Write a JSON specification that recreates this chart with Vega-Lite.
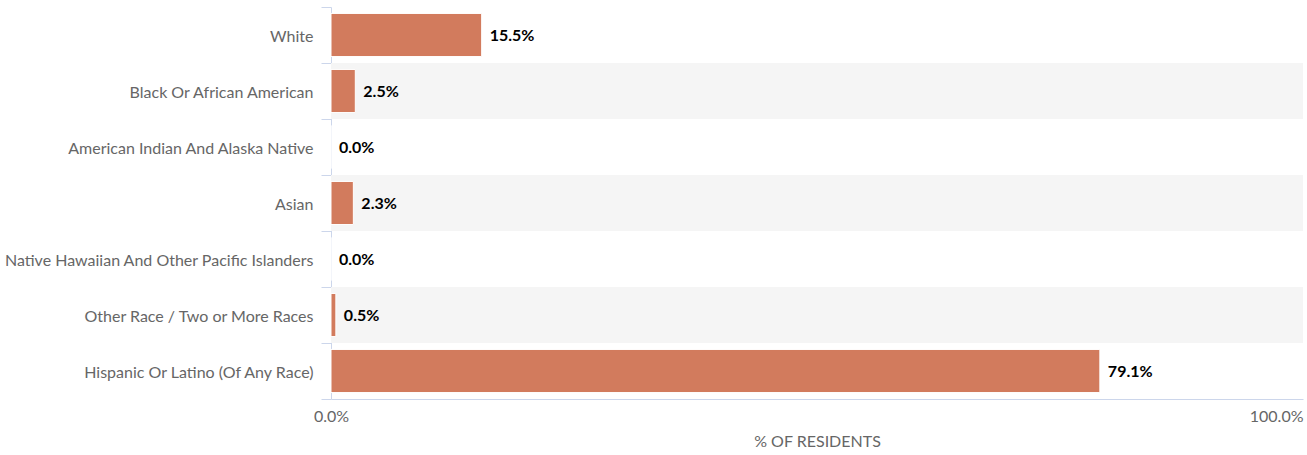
{
  "$schema": "https://vega.github.io/schema/vega-lite/v6.json",
  "width": 972,
  "height": 392,
  "autosize": {"type": "none"},
  "padding": {"left": 331, "top": 7, "right": 4, "bottom": 56},
  "background": "white",
  "config": {
    "view": {"stroke": null},
    "font": "Lato",
    "axis": {"labelFont": "Lato", "titleFont": "Lato"}
  },
  "data": {
    "values": [
      {"race": "White", "pct": 15.5},
      {"race": "Black Or African American", "pct": 2.5},
      {"race": "American Indian And Alaska Native", "pct": 0.0},
      {"race": "Asian", "pct": 2.3},
      {"race": "Native Hawaiian And Other Pacific Islanders", "pct": 0.0},
      {"race": "Other Race / Two or More Races", "pct": 0.5},
      {"race": "Hispanic Or Latino (Of Any Race)", "pct": 79.1}
    ]
  },
  "encoding": {
    "y": {
      "field": "race",
      "type": "nominal",
      "sort": ["White", "Black Or African American", "American Indian And Alaska Native", "Asian", "Native Hawaiian And Other Pacific Islanders", "Other Race / Two or More Races", "Hispanic Or Latino (Of Any Race)"],
      "scale": {"paddingInner": 0, "paddingOuter": 0},
      "axis": {
        "title": null,
        "tickBand": "extent",
        "tickSize": 10,
        "tickColor": "#ccd6eb",
        "domainColor": "#ccd6eb",
        "labelFontSize": 16,
        "labelColor": "#666666",
        "labelPadding": 8,
        "labelLimit": 400,
        "labelOffset": 1
      }
    }
  },
  "layer": [
    {
      "transform": [
        {"window": [{"op": "row_number", "as": "idx"}]},
        {"filter": "datum.idx % 2 == 0"}
      ],
      "mark": {"type": "bar", "color": "#f5f5f5", "height": {"band": 1}},
      "encoding": {
        "x": {"datum": 0, "type": "quantitative"},
        "x2": {"datum": 100}
      }
    },
    {
      "mark": {"type": "bar", "color": "#d27b5d", "stroke": "white", "strokeWidth": 1, "height": {"band": 0.77}},
      "encoding": {
        "x": {
          "field": "pct",
          "type": "quantitative",
          "scale": {"domain": [0, 100], "nice": false},
          "axis": {
            "title": "% OF RESIDENTS",
            "values": [0, 100],
            "labelExpr": "format(datum.value, '.1f') + '%'",
            "labelFlush": false,
            "labelAlign": {"condition": {"test": "datum.value == 100", "value": "right"}, "value": "center"},
            "grid": false,
            "ticks": false,
            "domainColor": "#ccd6eb",
            "labelFontSize": 16,
            "labelColor": "#666666",
            "labelPadding": 9,
            "titleFontSize": 16,
            "titleFontWeight": "normal",
            "titleColor": "#666666",
            "titlePadding": 9
          }
        }
      }
    },
    {
      "transform": [{"calculate": "format(datum.pct, '.1f') + '%'", "as": "label"}],
      "mark": {"type": "text", "align": "left", "dx": 8, "dy": 1, "fontSize": 16, "fontWeight": "bold", "color": "#000000", "font": "Lato"},
      "encoding": {
        "x": {"field": "pct", "type": "quantitative"},
        "text": {"field": "label", "type": "nominal"}
      }
    }
  ]
}
